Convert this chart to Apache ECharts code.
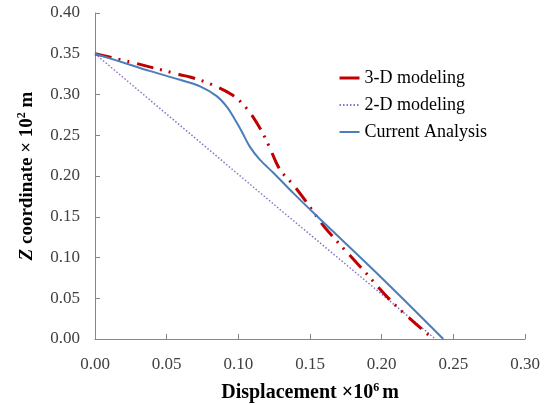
<!DOCTYPE html>
<html>
<head>
<meta charset="utf-8">
<script src="https://cdn.jsdelivr.net/npm/echarts@6/dist/echarts.min.js"></script>
<style>html,body{margin:0;padding:0;background:#fff}#c{width:547px;height:405px}</style>
</head>
<body>
<div id="c"></div>
<script>
// Data
const seriesNames = ['3-D modeling', '2-D modeling', 'Current Analysis'];

const model3dX = [0, 0.0244, 0.0593, 0.0663, 0.079, 0.0953, 0.1058, 0.115, 0.1216, 0.129, 0.1384, 0.1488, 0.1535, 0.1617, 0.1849, 0.2081, 0.236];
const model3dY = [0.35, 0.340, 0.3243, 0.3215, 0.314, 0.300, 0.283, 0.259, 0.236, 0.208, 0.189, 0.165, 0.153, 0.134, 0.089, 0.044, 0.0];

const model2dX = [0, 0.129, 0.2375];
const model2dY = [0.35, 0.159, 0.0];

const currentX = [0, 0.0244, 0.038, 0.0593, 0.0733, 0.0849, 0.0919, 0.0977, 0.1023, 0.108, 0.115, 0.1244, 0.1384, 0.1535, 0.1988, 0.243];
const currentY = [0.35, 0.3366, 0.329, 0.318, 0.310, 0.298, 0.285, 0.269, 0.255, 0.236, 0.220, 0.204, 0.179, 0.153, 0.077, 0.0];

const xTicks = [0, 0.05, 0.10, 0.15, 0.20, 0.25, 0.30];
const yTicks = [0, 0.05, 0.10, 0.15, 0.20, 0.25, 0.30, 0.35, 0.40];

function pairs(xs, ys) { return xs.map((x, i) => [x, ys[i]]); }

const serif = 'Liberation Serif';
const xNameBase = { fontFamily: serif, fontWeight: 'bold', fontSize: 20, color: '#000', lineHeight: 22 };
const yNameBase = { fontFamily: serif, fontWeight: 'bold', fontSize: 19, color: '#000', lineHeight: 22 };

const chart = echarts.init(document.getElementById('c'), null, { renderer: 'canvas' });
chart.setOption({
  animation: false,
  backgroundColor: '#fff',
  grid: { left: 95, right: 22, top: 13, bottom: 66, containLabel: false, outerBoundsMode: 'none' },
  legend: {
    orient: 'vertical',
    left: 333,
    top: 64,
    itemWidth: 20,
    itemHeight: 14,
    itemGap: 9,
    itemStyle: { opacity: 0, color: 'rgba(0,0,0,0)', borderWidth: 0 },
    textStyle: { fontFamily: serif, fontSize: 18, color: '#000' },
    data: [
      { name: seriesNames[0], lineStyle: { type: 'solid', width: 3, color: '#C00000' } },
      { name: seriesNames[1] },
      { name: seriesNames[2] }
    ]
  },
  xAxis: {
    type: 'value',
    min: xTicks[0],
    max: xTicks[xTicks.length - 1],
    interval: 0.05,
    name: '{b|Displacement ×10}{s|6}{b|m}',
    nameLocation: 'middle',
    nameGap: 43,
    nameTextStyle: Object.assign({}, xNameBase, {
      rich: {
        b: Object.assign({}, xNameBase),
        s: Object.assign({}, xNameBase, { fontSize: 12, verticalAlign: 'top', lineHeight: 22, padding: [0, 3, 0, 0] })
      }
    }),
    axisLine: { lineStyle: { color: '#868686', width: 1 } },
    axisTick: { inside: true, length: 5, lineStyle: { color: '#868686' } },
    splitLine: { show: false },
    axisLabel: {
      fontFamily: serif, fontSize: 17, color: '#404040', margin: 17,
      formatter: v => v.toFixed(2)
    }
  },
  yAxis: {
    type: 'value',
    min: yTicks[0],
    max: yTicks[yTicks.length - 1],
    interval: 0.05,
    name: '{i|Z}{b| coordinate × 10}{s|2}{b| m}',
    nameLocation: 'middle',
    nameGap: 57,
    nameTextStyle: Object.assign({}, yNameBase, {
      rich: {
        i: Object.assign({}, yNameBase, { fontStyle: 'italic' }),
        b: Object.assign({}, yNameBase),
        s: Object.assign({}, yNameBase, { fontSize: 12, verticalAlign: 'top', lineHeight: 22 })
      }
    }),
    axisLine: { show: true, lineStyle: { color: '#868686', width: 1 } },
    axisTick: { show: true, inside: true, length: 5, lineStyle: { color: '#868686' } },
    splitLine: { show: false },
    axisLabel: {
      fontFamily: serif, fontSize: 17, color: '#404040', margin: 15,
      formatter: v => v.toFixed(2)
    }
  },
  series: [
    {
      name: seriesNames[0], type: 'line', symbol: 'none', smooth: 0.35,
      data: pairs(model3dX, model3dY),
      lineStyle: { color: '#C00000', width: 3, type: [17, 7, 2, 7, 2, 8] },
      itemStyle: { color: '#C00000' }, z: 3
    },
    {
      name: seriesNames[1], type: 'line', symbol: 'none',
      data: pairs(model2dX, model2dY),
      lineStyle: { color: '#8A72C8', width: 1.5, type: [1.5, 2] },
      itemStyle: { color: '#8A72C8' }, z: 2
    },
    {
      name: seriesNames[2], type: 'line', symbol: 'none', smooth: 0.35,
      data: pairs(currentX, currentY),
      lineStyle: { color: '#4A7EBB', width: 2, type: 'solid' },
      itemStyle: { color: '#4A7EBB' }, z: 4
    }
  ]
});
</script>
</body>
</html>
